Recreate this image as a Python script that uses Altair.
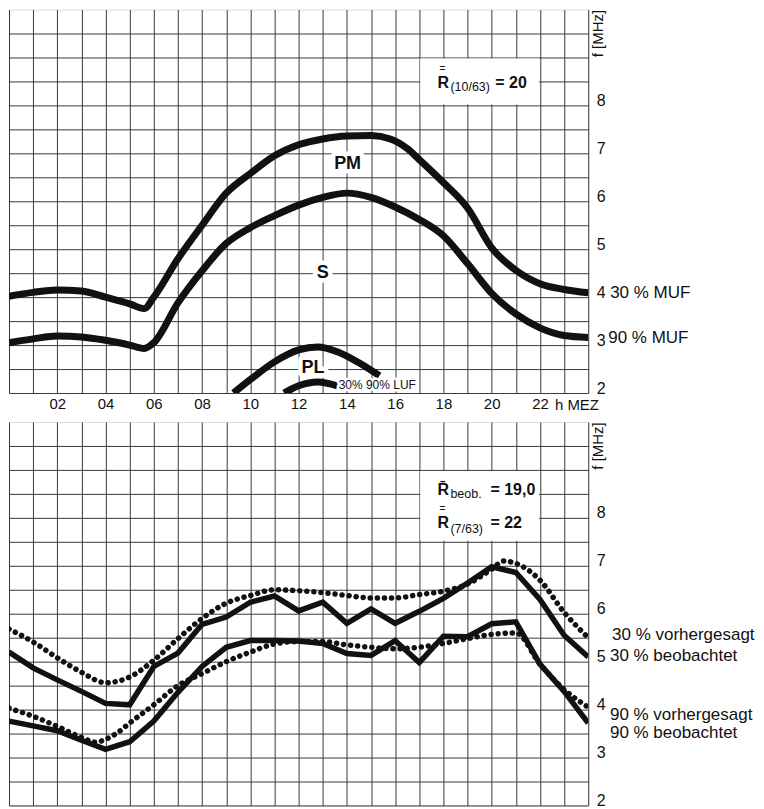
import altair as alt
import pandas as pd

FONT = "Liberation Sans"
INK = "#111111"
GRID = "#3a3a3a"

# ---------------- top panel: predicted MUF / LUF (10/63) ----------------
pm_h = [0, 1, 2, 3, 4, 5, 5.6, 6, 7, 8, 9, 10, 11, 12, 13, 14, 15, 15.8, 16.5, 17, 18, 19, 20, 21, 22, 23, 24]
pm_f = [4.02, 4.1, 4.15, 4.13, 4.0, 3.86, 3.76, 4.0, 4.8, 5.5, 6.17, 6.58, 6.95, 7.18, 7.3, 7.36, 7.37, 7.3, 7.1,
        6.87, 6.39, 5.86, 5.03, 4.56, 4.28, 4.16, 4.09]
s_h = [0, 1, 2, 3, 4, 5, 5.6, 6, 7, 8, 9, 10, 11, 12, 13, 14, 15, 16, 17, 18, 19, 20, 21, 22, 23, 24]
s_f = [3.05, 3.13, 3.19, 3.17, 3.1, 3.0, 2.93, 3.05, 3.88, 4.55, 5.12, 5.45, 5.7, 5.92, 6.08, 6.17, 6.08, 5.88,
       5.62, 5.28, 4.7, 4.08, 3.65, 3.36, 3.2, 3.16]
pl30_h = [9.3, 10, 11, 12, 12.8, 13.6, 14.5, 15.35]
pl30_f = [2.0, 2.28, 2.65, 2.9, 2.96, 2.86, 2.63, 2.36]
pl90_h = [11.4, 12, 12.8, 13.6]
pl90_f = [2.0, 2.15, 2.23, 2.15]

# ---------------- bottom panel: observed vs predicted (7/63) ----------------
hours = list(range(25))
obs30 = [5.2, 4.87, 4.62, 4.38, 4.13, 4.1, 4.9, 5.18, 5.78, 5.93, 6.24, 6.37, 6.06, 6.24, 5.8, 6.1, 5.8, 6.05,
         6.32, 6.64, 6.98, 6.86, 6.3, 5.55, 5.1]
obs90 = [3.76, 3.66, 3.56, 3.36, 3.17, 3.33, 3.76, 4.36, 4.9, 5.3, 5.44, 5.44, 5.43, 5.38, 5.17, 5.13, 5.44, 4.98,
         5.53, 5.52, 5.79, 5.83, 4.95, 4.38, 3.72]
pred30_h = [0, 1, 2, 3, 4, 5, 6, 7, 8, 9, 10, 11, 12, 13, 14, 15, 16, 17, 18, 19, 20, 20.5, 21, 22, 23, 24]
pred30_f = [5.68, 5.41, 5.08, 4.78, 4.56, 4.68, 5.03, 5.48, 5.9, 6.22, 6.38, 6.5, 6.48, 6.44, 6.38, 6.33, 6.33,
            6.4, 6.47, 6.62, 6.93, 7.1, 7.05, 6.7, 6.03, 5.5]
pred90_h = [0, 1, 2, 3, 3.6, 4, 4.5, 5, 6, 7, 8, 9, 10, 11, 12, 13, 14, 15, 16, 17, 18, 19, 20, 21, 22, 23, 24]
pred90_f = [4.03, 3.86, 3.65, 3.42, 3.32, 3.38, 3.52, 3.72, 4.1, 4.5, 4.75, 5.0, 5.2, 5.37, 5.42, 5.42, 5.35, 5.3,
            5.27, 5.3, 5.38, 5.48, 5.57, 5.6, 4.95, 4.42, 4.05]

# axis tick values (the top line at 10 MHz is the frame itself)
x_ticks = list(range(25))
y_ticks = [2 + 0.5 * i for i in range(16)]


def frame(h, f, name):
    return pd.DataFrame({"h": h, "f": f, "series": name})


XS = alt.Scale(domain=[0, 24], nice=False, zero=False)
YS = alt.Scale(domain=[2, 10], nice=False, zero=False)

x_label_expr = ("(datum.value % 2 === 0 && datum.value > 0 && datum.value < 24) ? "
                "(datum.value < 10 ? '0' + datum.value : '' + datum.value) : ''")
y_label_expr = "(datum.value % 1 === 0 && datum.value <= 8) ? format(datum.value, 'd') : ''"


def x_enc(field, show_labels):
    return alt.X(field, type="quantitative", scale=XS, title=None,
                 axis=alt.Axis(values=x_ticks, grid=True, ticks=False, domain=False, labels=show_labels,
                               labelExpr=x_label_expr, labelOverlap=False, labelFontSize=15,
                               labelPadding=4, labelColor=INK, labelFont=FONT,
                               gridColor=GRID, gridWidth=1))


def y_enc(field):
    return alt.Y(field, type="quantitative", scale=YS, title=None,
                 axis=alt.Axis(orient="right", values=y_ticks, grid=True, ticks=False, domain=False,
                               labelExpr=y_label_expr, labelOverlap=False, labelFontSize=16,
                               labelPadding=8, labelOffset=-5, labelColor=INK, labelFont=FONT,
                               gridColor=GRID, gridWidth=1))


def texts(rows, show_labels, size, weight="normal", align="left", halo=0, angle=0):
    df = pd.DataFrame(rows, columns=["text", "h", "f"])
    layers = []
    kw = dict(fontSize=size, fontWeight=weight, align=align, baseline="middle", font=FONT, angle=angle)
    enc = dict(x=x_enc("h", show_labels), y=y_enc("f"), text="text:N")
    if halo:
        layers.append(alt.Chart(df).mark_text(color="white", stroke="white", strokeWidth=halo,
                                              strokeJoin="round", **kw).encode(**enc))
    layers.append(alt.Chart(df).mark_text(color=INK, **kw).encode(**enc))
    return layers


def white_box(h1, h2, f1, f2, show_labels):
    df = pd.DataFrame({"h": [h1], "h2": [h2], "f": [f1], "f2": [f2]})
    return alt.Chart(df).mark_rect(color="white").encode(
        x=x_enc("h", show_labels), x2="h2:Q", y=y_enc("f"), y2="f2:Q")


R_SINGLE = "R\u0304"   # R with macron

# ---------------- top panel ----------------
top_lines = pd.concat([frame(pm_h, pm_f, "PM"), frame(s_h, s_f, "S"),
                       frame(pl30_h, pl30_f, "PL30"), frame(pl90_h, pl90_f, "PL90")])

top_layers = [
    white_box(17.04, 21.96, 8.02, 8.98, True),
    alt.Chart(top_lines).mark_line(color=INK, strokeWidth=7, interpolate="monotone", clip=True).encode(
        x=x_enc("h", True), y=y_enc("f"), detail="series:N"),
]
top_layers += texts([["PM", 14.03, 6.78], ["S", 13.0, 4.51], ["PL", 12.6, 2.52]], True, 18, "bold",
                    "center", halo=9)
top_layers += texts([["30% 90% LUF", 13.66, 2.17]], True, 12, "normal", "left", halo=5)
top_layers += texts([["R", 17.75, 8.47], ["= 20", 20.15, 8.47]], True, 16, "bold")
top_layers += texts([["=", 17.96, 8.77]], True, 10, "bold", "center")
top_layers += texts([["(10/63)", 18.29, 8.38]], True, 12.5)
top_layers += texts([["30 % MUF", 24.91, 4.08], ["90 % MUF", 24.83, 3.14]], True, 17)
top_layers += texts([["h  MEZ", 22.62, 1.76]], True, 15)
top_layers += texts([["f [MHz]", 24.41, 9.5]], True, 15, angle=270, align="center")

top = alt.layer(*top_layers).properties(width=580, height=384)

# ---------------- bottom panel ----------------
solid = pd.concat([frame(hours, obs30, "30 % beobachtet"), frame(hours, obs90, "90 % beobachtet")])
dotted = pd.concat([frame(pred30_h, pred30_f, "30 % vorhergesagt"),
                    frame(pred90_h, pred90_f, "90 % vorhergesagt")])

bot_layers = [
    white_box(17.04, 21.96, 7.52, 8.98, False),
    alt.Chart(dotted).mark_line(color=INK, strokeWidth=5.5, strokeDash=[0.1, 7], strokeCap="round",
                                interpolate="monotone", clip=True).encode(
        x=x_enc("h", False), y=y_enc("f"), detail="series:N"),
    alt.Chart(solid).mark_line(color=INK, strokeWidth=5.5, interpolate="linear", strokeJoin="miter",
                               clip=True).encode(
        x=x_enc("h", False), y=y_enc("f"), detail="series:N"),
]
bot_layers += texts([[R_SINGLE, 17.75, 8.59], ["= 19,0", 19.95, 8.59], ["R", 17.75, 7.9],
                     ["= 22", 19.95, 7.9]], False, 16, "bold")
bot_layers += texts([["=", 17.96, 8.2]], False, 10, "bold", "center")
bot_layers += texts([["beob.", 18.29, 8.5], ["(7/63)", 18.29, 7.77]], False, 12.5)
bot_layers += texts([["30 % vorhergesagt", 24.99, 5.55], ["30 % beobachtet", 24.9, 5.12],
                     ["90 % vorhergesagt", 24.9, 3.89], ["90 % beobachtet", 24.9, 3.52]], False, 17)
bot_layers += texts([["f [MHz]", 24.41, 9.5]], False, 15, angle=270, align="center")

bottom = alt.layer(*bot_layers).properties(width=580, height=384)

chart = alt.vconcat(top, bottom, spacing=29, bounds="flush").properties(padding=0).configure_view(
    stroke=INK, strokeWidth=1.2).configure(background="white")

chart.save("out.html", embed_options={"renderer": "svg", "actions": False})
